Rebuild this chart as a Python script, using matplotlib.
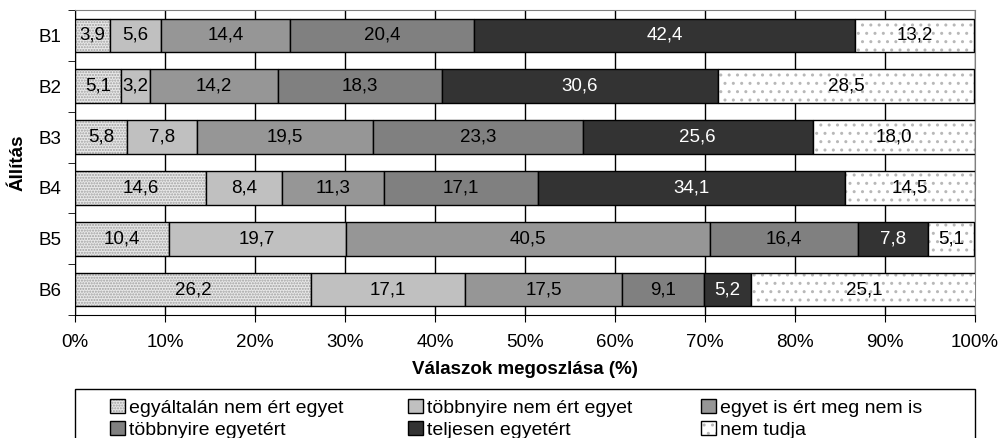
import matplotlib
matplotlib.use("Agg")
import matplotlib.pyplot as plt
from matplotlib.patches import Rectangle
import numpy as np

plt.rcParams['font.family'] = ['Liberation Sans', 'DejaVu Sans']
plt.rcParams['hatch.linewidth'] = 1.0

statements = ["B1", "B2", "B3", "B4", "B5", "B6"]
categories = [
    "egyáltalán nem ért egyet",
    "többnyire nem ért egyet",
    "egyet is ért meg nem is",
    "többnyire egyetért",
    "teljesen egyetért",
    "nem tudja",
]
values = {
    "egyáltalán nem ért egyet": [3.9, 5.1, 5.8, 14.6, 10.4, 26.2],
    "többnyire nem ért egyet": [5.6, 3.2, 7.8, 8.4, 19.7, 17.1],
    "egyet is ért meg nem is": [14.4, 14.2, 19.5, 11.3, 40.5, 17.5],
    "többnyire egyetért": [20.4, 18.3, 23.3, 17.1, 16.4, 9.1],
    "teljesen egyetért": [42.4, 30.6, 25.6, 34.1, 7.8, 5.2],
    "nem tudja": [13.2, 28.5, 18.0, 14.5, 5.1, 25.1],
}
x_ticks = [0, 10, 20, 30, 40, 50, 60, 70, 80, 90, 100]

styles = {
    "egyáltalán nem ért egyet": dict(facecolor="#e8e8e8", hatch="......", hatch_color="#a0a0a0", text="black"),
    "többnyire nem ért egyet": dict(facecolor="#c0c0c0", hatch=None, hatch_color=None, text="black"),
    "egyet is ért meg nem is": dict(facecolor="#969696", hatch=None, hatch_color=None, text="black"),
    "többnyire egyetért": dict(facecolor="#808080", hatch=None, hatch_color=None, text="black"),
    "teljesen egyetért": dict(facecolor="#333333", hatch=None, hatch_color=None, text="white"),
    "nem tudja": dict(facecolor="#ffffff", hatch="..", hatch_color="#b8b8b8", text="black"),
}

FS = 13.5
W, H = 1008, 438

fig = plt.figure(figsize=(W / 100, H / 100), dpi=100)
ax = fig.add_axes([75 / W, 1 - 315 / H, 900 / W, 305 / H])

y = np.arange(len(statements))
left = np.zeros(len(statements))
handles = {}
for cat in categories:
    vals = np.array(values[cat])
    st = styles[cat]
    bars = ax.barh(y, vals, left=left, height=0.66, color=st["facecolor"],
                   edgecolor="black", linewidth=1.0, zorder=3, label=cat)
    if st["hatch"]:
        for b in bars:
            b.set_hatch(st["hatch"])
            b._hatch_color = matplotlib.colors.to_rgba(st["hatch_color"])
    for yi, (l, v) in enumerate(zip(left, vals)):
        ax.text(l + v / 2, yi, f"{v:.1f}".replace(".", ","), ha="center", va="center",
                fontsize=FS, color=st["text"], zorder=5)
    handles[cat] = bars
    left = left + vals

ax.set_xlim(0, 100)
ax.set_ylim(len(statements) - 0.5, -0.5)
ax.set_xticks(x_ticks)
ax.set_xticklabels([f"{t}%" for t in x_ticks], fontsize=FS)
ax.set_yticks(y)
ax.set_yticklabels(statements, fontsize=FS)
ax.set_yticks(np.arange(len(statements) + 1) - 0.5, minor=True)
ax.tick_params(axis="y", which="major", length=0, pad=10)
ax.tick_params(axis="y", which="minor", length=5, direction="out", color="black")
ax.tick_params(axis="x", length=5, direction="out", pad=9)
ax.xaxis.grid(True, color="black", linewidth=1.0, zorder=0)
ax.set_axisbelow(True)
for side in ("top", "right"):
    ax.spines[side].set_color("#808080")
for side in ("left", "bottom"):
    ax.spines[side].set_color("black")

ax.set_xlabel("Válaszok megoszlása (%)", fontsize=FS, fontweight="bold", labelpad=7)
ax.set_ylabel("Állítás", fontsize=FS, fontweight="bold", labelpad=8)

# Legend: three columns, filled row by row, inside one shared frame
frame = Rectangle((75 / W, -10 / H), 900 / W, (H - 389 + 10) / H, transform=fig.transFigure,
                  facecolor="white", edgecolor="black", linewidth=1.0, zorder=1)
fig.patches.append(frame)
col_x = [110, 408, 701]
for ci, x0 in enumerate(col_x):
    cats = [categories[ci], categories[ci + 3]]
    fig.legend(handles=[handles[c] for c in cats], labels=cats, ncol=1,
               loc="upper left", bbox_to_anchor=(x0 / W, 1 - 399 / H),
               frameon=False, fontsize=14, handlelength=0.75, handleheight=0.75,
               handletextpad=0.25, borderpad=0.0, labelspacing=0.2,
               borderaxespad=0.0)

fig.savefig("out.png", dpi=100)
